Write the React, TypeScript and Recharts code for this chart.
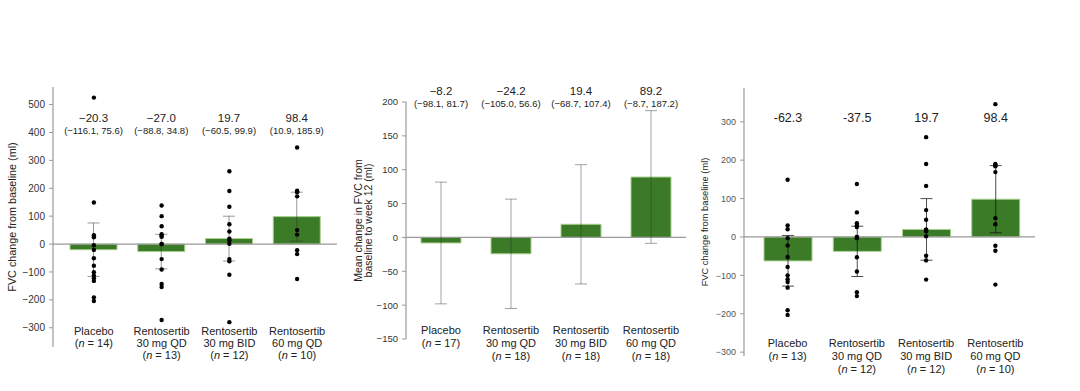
import React from 'react';
import {
  ComposedChart,
  Bar,
  Scatter,
  ErrorBar,
  LabelList,
  XAxis,
  YAxis,
  ReferenceLine,
} from 'recharts';

// group labels (shared by the three panels)
const groups = ['Placebo', 'Rentosertib 30 mg QD', 'Rentosertib 30 mg BID', 'Rentosertib 60 mg QD'];
const groupLines = [['Placebo'], ['Rentosertib', '30 mg QD'], ['Rentosertib', '30 mg BID'], ['Rentosertib', '60 mg QD']];

// panel 1
const means1 = [-20.3, -27.0, 19.7, 98.4];
const ci1 = [[-116.1, 75.6], [-88.8, 34.8], [-60.5, 99.9], [10.9, 185.9]];
const n1 = [14, 13, 12, 10];
const meanText1 = ['\u221220.3', '\u221227.0', '19.7', '98.4'];
const ciText1 = ['(\u2212116.1, 75.6)', '(\u221288.8, 34.8)', '(\u221260.5, 99.9)', '(10.9, 185.9)'];
const dots1 = [
  [525, 149, 32, 24, -4, -21, -51, -78, -101, -113, -123, -132, -191, -204],
  [138, 100, 64, 35, 30, 26, 0, 0, -54, -91, -143, -154, -272],
  [261, 190, 134, 71, 45, 19, 14, 1, -54, -62, -110, -280],
  [346, 191, 188, 186, 171, 50, 34, -22, -36, -125],
];
const ticks1 = [-300, -200, -100, 0, 100, 200, 300, 400, 500];

// panel 2
const means2 = [-8.2, -24.2, 19.4, 89.2];
const ci2 = [[-98.1, 81.7], [-105.0, 56.6], [-68.7, 107.4], [-8.7, 187.2]];
const n2 = [17, 18, 18, 18];
const meanText2 = ['\u22128.2', '\u221224.2', '19.4', '89.2'];
const ciText2 = ['(\u221298.1, 81.7)', '(\u2212105.0, 56.6)', '(\u221268.7, 107.4)', '(\u22128.7, 187.2)'];
const ticks2 = [-150, -100, -50, 0, 50, 100, 150, 200];

// panel 3
const means3 = [-62.3, -37.5, 19.7, 98.4];
const ci3 = [[-128, 4], [-103, 28], [-60.5, 99.9], [10.9, 185.9]];
const n3 = [13, 12, 12, 10];
const meanText3 = ['-62.3', '-37.5', '19.7', '98.4'];
const dots3 = [
  [149, 30, 20, -3, -22, -52, -78, -100, -110, -117, -132, -191, -203],
  [138, 64, 36, 30, 26, 0, 0, -3, -53, -90, -144, -154],
  [260, 190, 133, 70, 45, 19, 19, 15, 2, -49, -61, -111],
  [346, 190, 188, 184, 169, 49, 33, -23, -36, -124],
];
const ticks3 = [-300, -200, -100, 0, 100, 200, 300];

const FONT = '"Liberation Sans", Arial, sans-serif';
const GREEN = '#3b7a26';
const GREEN_EDGE = '#a8d08f';
const AXIS = '#9a9a9a';

interface PanelProps {
  left: number;
  width: number;
  means: number[];
  ci: number[][];
  ns: number[];
  dots?: number[][];
  meanText: string[];
  ciText?: string[];
  yTicks: number[];
  yDomain: [number, number];
  yWidth: number;
  margin: { top: number; right: number; bottom: number; left: number };
  pad: { left: number; right: number };
  barSize: number;
  title: string[];
  titleX: number[];
  titleSize: number;
  tickSize: number;
  tickColor: string;
  meanY: number;
  ciY: number;
  meanSize: number;
  catDy: number[];
  errStroke: string;
  errOpacity: number;
}

function Panel(p: PanelProps) {
  const rows = groups.map((name, i) => ({
    name,
    mean: p.means[i],
    err: [p.means[i] - p.ci[i][0], p.ci[i][1] - p.means[i]],
  }));
  const pts = (p.dots ?? []).flatMap((vals, g) => vals.map((v) => ({ x: g + 0.5, y: v })));

  const catTick = (t: any) => {
    const i = groups.indexOf(t.payload.value);
    const lines = [...groupLines[i]];
    return (
      <g>
        {lines.map((s, k) => (
          <text key={k} x={t.x} y={t.y + p.catDy[k]} textAnchor="middle" fontSize={11} fill="#222" fontFamily={FONT}>
            {s}
          </text>
        ))}
        <text x={t.x} y={t.y + p.catDy[lines.length]} textAnchor="middle" fontSize={11} fill="#222" fontFamily={FONT}>
          (<tspan fontStyle="italic">n</tspan> = {p.ns[i]})
        </text>
      </g>
    );
  };

  const meanLabel = (l: any) => {
    const cx = Number(l.x) + Number(l.width) / 2;
    return (
      <g>
        <text x={cx} y={p.meanY} textAnchor="middle" fontSize={p.meanSize} fill="#222" fontFamily={FONT}>
          {p.meanText[l.index]}
        </text>
        {p.ciText && (
          <text x={cx} y={p.ciY} textAnchor="middle" fontSize={9.5} fill="#222" fontFamily={FONT}>
            {p.ciText[l.index]}
          </text>
        )}
      </g>
    );
  };

  const yTitle = (l: any) => {
    const vb = l.viewBox;
    const cy = vb.y + vb.height / 2;
    return (
      <g>
        {p.title.map((s, k) => (
          <text
            key={k}
            x={p.titleX[k]}
            y={cy}
            transform={`rotate(-90, ${p.titleX[k]}, ${cy})`}
            textAnchor="middle"
            dominantBaseline="central"
            fontSize={p.titleSize}
            fill="#222"
            fontFamily={FONT}
          >
            {s}
          </text>
        ))}
      </g>
    );
  };

  return (
    <div style={{ position: 'absolute', left: p.left, top: 0 }}>
      <ComposedChart width={p.width} height={391} data={rows} margin={p.margin}>
        <XAxis
          xAxisId="cat"
          dataKey="name"
          type="category"
          height={30}
          padding={p.pad}
          axisLine={false}
          tickLine={false}
          tickSize={0}
          tickMargin={0}
          interval={0}
          tick={catTick}
        />
        <XAxis xAxisId="num" dataKey="x" type="number" domain={[0, 4]} padding={p.pad} hide allowDataOverflow />
        <YAxis
          yAxisId="main"
          type="number"
          domain={p.yDomain}
          ticks={p.yTicks}
          width={p.yWidth}
          allowDataOverflow
          axisLine={{ stroke: AXIS, strokeWidth: 1.2 }}
          tickLine={{ stroke: AXIS }}
          tickSize={4}
          tickMargin={4}
          interval={0}
          tickFormatter={(v: number) => (v < 0 ? `\u2212${Math.abs(v)}` : `${v}`)}
          tick={{ fontSize: p.tickSize, fill: p.tickColor, fontFamily: FONT }}
          label={{ content: yTitle }}
        />
        <YAxis yAxisId="pts" dataKey="y" type="number" domain={p.yDomain} hide allowDataOverflow />
        <ReferenceLine xAxisId="cat" yAxisId="main" y={0} stroke="#9a9a9a" strokeWidth={1.2} />
        <Bar
          xAxisId="cat"
          yAxisId="main"
          dataKey="mean"
          fill={GREEN}
          stroke={GREEN_EDGE}
          strokeWidth={1}
          barSize={p.barSize}
          isAnimationActive={false}
        >
          <ErrorBar dataKey="err" width={6} stroke={p.errStroke} strokeOpacity={p.errOpacity} strokeWidth={1} direction="y" />
          <LabelList dataKey="mean" content={meanLabel} />
        </Bar>
        {pts.length > 0 && (
          <Scatter
            xAxisId="num"
            yAxisId="pts"
            data={pts}
            dataKey="y"
            isAnimationActive={false}
            shape={(s: any) => <circle cx={s.cx} cy={s.cy} r={2.2} fill="#000" />}
          />
        )}
      </ComposedChart>
    </div>
  );
}

export default function App() {
  return (
    <div style={{ position: 'absolute', left: 0, top: 0, width: 1080, height: 391, background: '#fff', overflow: 'hidden' }}>
      <Panel
        left={0}
        width={345}
        means={means1}
        ci={ci1}
        ns={n1}
        dots={dots1}
        meanText={meanText1}
        ciText={ciText1}
        yTicks={ticks1}
        yDomain={[-369, 563]}
        yWidth={53}
        margin={{ top: 87, right: 8, bottom: 14, left: 0 }}
        pad={{ left: 7, right: 6 }}
        barSize={47}
        title={['FVC change from baseline (ml)']}
        titleX={[12]}
        titleSize={10.8}
        tickSize={10}
        tickColor="#333"
        meanY={122}
        ciY={134}
        meanSize={11.5}
        catDy={[-12, 0, 12]}
        errStroke="#333"
        errOpacity={0.5}
      />
      <Panel
        left={340}
        width={350}
        means={means2}
        ci={ci2}
        ns={n2}
        meanText={meanText2}
        ciText={ciText2}
        yTicks={ticks2}
        yDomain={[-150, 200]}
        yWidth={66}
        margin={{ top: 102, right: 4, bottom: 22, left: 0 }}
        pad={{ left: 0, right: 0 }}
        barSize={40}
        title={['Mean change in FVC from', 'baseline to week 12 (ml)']}
        titleX={[18, 28]}
        titleSize={10.5}
        tickSize={9.5}
        tickColor="#333"
        meanY={95}
        ciY={107}
        meanSize={11.5}
        catDy={[-5, 8, 21]}
        errStroke="#333"
        errOpacity={0.45}
      />
      <Panel
        left={690}
        width={390}
        means={means3}
        ci={ci3}
        ns={n3}
        dots={dots3}
        meanText={meanText3}
        yTicks={ticks3}
        yDomain={[-310, 388]}
        yWidth={54}
        margin={{ top: 88, right: 45, bottom: 5, left: 0 }}
        pad={{ left: 9, right: 5 }}
        barSize={48}
        title={['FVC change from baseline (ml)']}
        titleX={[15]}
        titleSize={9.3}
        tickSize={9}
        tickColor="#555"
        meanY={122}
        ciY={0}
        meanSize={12.5}
        catDy={[-9, 4, 17]}
        errStroke="#111"
        errOpacity={0.75}
      />
    </div>
  );
}
